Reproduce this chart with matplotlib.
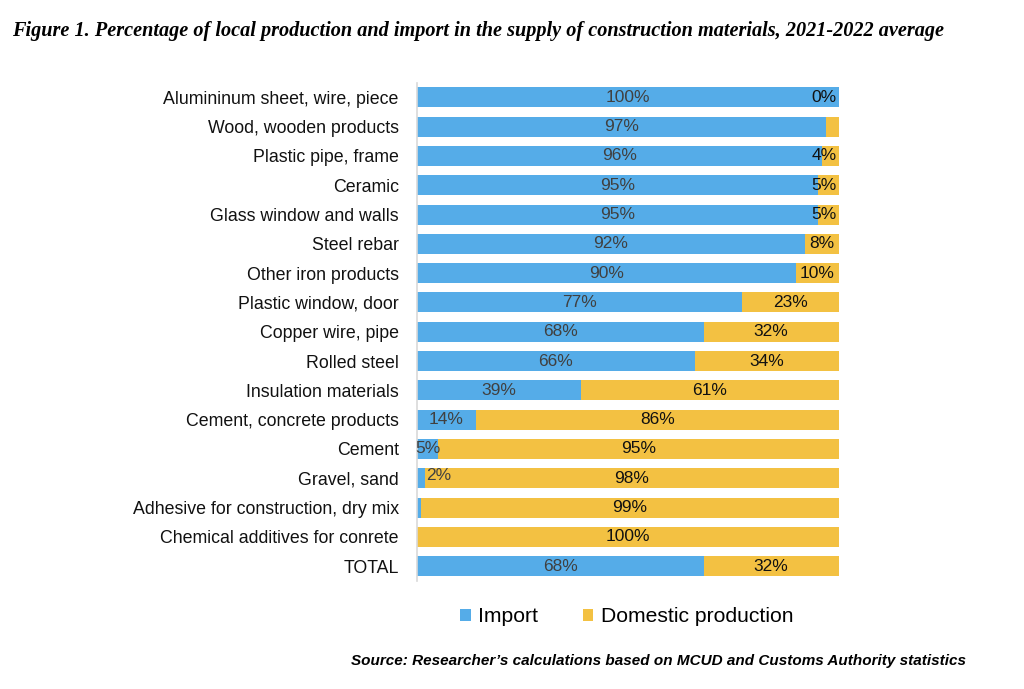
import numpy as np
import matplotlib.pyplot as plt

# Share of import vs domestic production, 2021-2022 average (%)
categories = [
    'Alumininum sheet, wire, piece',
    'Wood, wooden products',
    'Plastic pipe, frame',
    'Ceramic',
    'Glass window and walls',
    'Steel rebar',
    'Other iron products',
    'Plastic window, door',
    'Copper wire, pipe',
    'Rolled steel',
    'Insulation materials',
    'Cement, concrete products',
    'Cement',
    'Gravel, sand',
    'Adhesive for construction, dry mix',
    'Chemical additives for conrete',
    'TOTAL',
]
import_pct = [100, 97, 96, 95, 95, 92, 90, 77, 68, 66, 39, 14, 5, 2, 1, 0, 68]
domestic_pct = [0, 3, 4, 5, 5, 8, 10, 23, 32, 34, 61, 86, 95, 98, 99, 100, 32]
# labels Excel left out
hide_import = ['Adhesive for construction, dry mix', 'Chemical additives for conrete']
hide_domestic = ['Wood, wooden products']

BLUE = '#55ace8'
YELLOW = '#f3c142'
plt.rcParams['font.family'] = ['Liberation Sans', 'DejaVu Sans']

fig = plt.figure(figsize=(10.24, 6.89), dpi=100)
ax = fig.add_axes([0.407, 0.157, 0.412, 0.723])

y = np.arange(len(categories))
imp = np.array(import_pct)
dom = np.array(domestic_pct)
ax.barh(y, imp, height=0.68, color=BLUE, label='Import')
ax.barh(y, dom, left=imp, height=0.68, color=YELLOW, label='Domestic production')

ax.set_xlim(0, 100)
ax.set_ylim(len(categories) - 0.5, -0.5)
ax.set_yticks(y)
ax.set_yticklabels(categories, fontsize=12.8, color='#111111')
ax.tick_params(axis='y', length=0, pad=13)
ax.set_xticks([])
for s in ['top', 'right', 'bottom']:
    ax.spines[s].set_visible(False)
ax.spines['left'].set_color('#d9d9d9')
ax.spines['left'].set_linewidth(1.2)

FS = 12.5


def put_label(yy, start, width, txt, color):
    mid = start + width / 2
    if width >= 8:
        ax.text(mid, yy, txt, ha='center', va='center', fontsize=FS, color=color)
    elif start + width >= 99.5:
        ax.text(99.6, yy, txt, ha='right', va='center', fontsize=FS, color=color)
    elif width >= 4:
        ax.text(start - 0.4, yy, txt, ha='left', va='center', fontsize=FS, color=color)
    else:
        ax.text(start + width + 0.3, yy - 0.08, txt, ha='left', va='center', fontsize=FS, color=color)


for i, c in enumerate(categories):
    if c not in hide_import:
        put_label(i, 0, imp[i], f'{imp[i]}%', '#404040')
    if c not in hide_domestic:
        put_label(i, imp[i], dom[i], f'{dom[i]}%', '#111111')

fig.legend(loc='center', bbox_to_anchor=(0.612, 0.105), ncol=2, frameon=False,
           fontsize=15.2, handlelength=0.5, handleheight=0.5, handletextpad=0.35,
           columnspacing=2.1)

fig.text(0.012, 0.955, 'Figure 1. Percentage of local production and import in the supply of construction materials, 2021-2022 average',
         fontsize=14.6, fontweight='bold', fontstyle='italic', family='Liberation Serif', va='center')
fig.text(0.943, 0.040, 'Source: Researcher\u2019s calculations based on MCUD and Customs Authority statistics',
         fontsize=11, fontweight='bold', fontstyle='italic', ha='right', va='center')

fig.savefig('out.png', dpi=100, facecolor='white')
